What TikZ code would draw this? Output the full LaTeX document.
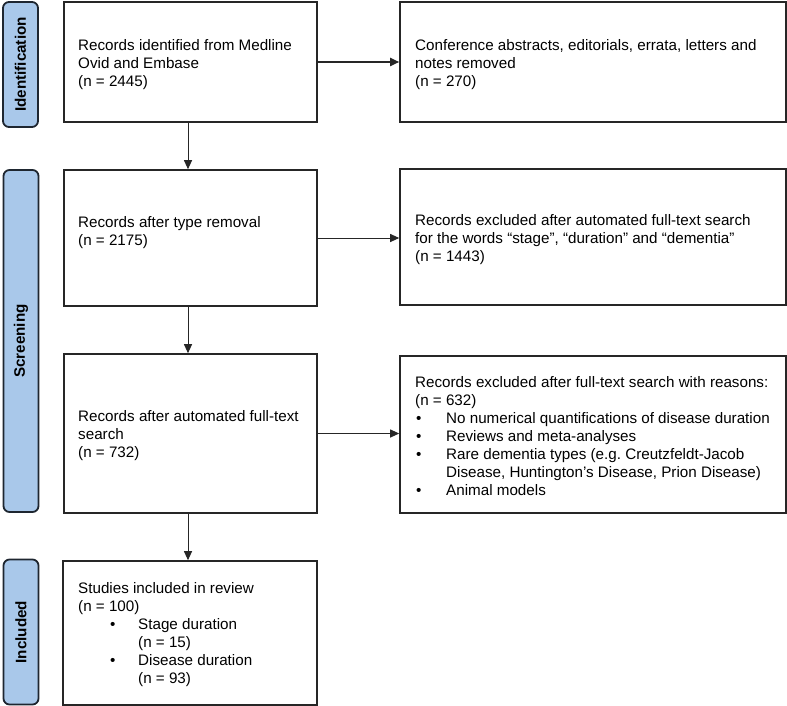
\documentclass[tikz,border=0pt]{standalone}
\usepackage{fontspec}
\setmainfont{Liberation Sans}
\usetikzlibrary{arrows.meta}
\definecolor{labfill}{RGB}{169,200,234}
\definecolor{labdraw}{RGB}{30,38,48}
\frenchspacing
\begin{document}
\begin{tikzpicture}[x=1pt,y=-1pt,
  every node/.style={font=\fontsize{15.2}{18}\selectfont},
  box/.style={draw=black!85, line width=1.6pt, rectangle, inner sep=0pt, anchor=center},
  boxtext/.style={align=left, inner sep=0pt, anchor=west},
  stage/.style={draw=labdraw, fill=labfill, line width=1.8pt, rounded corners=6pt, minimum width=35pt, anchor=center},
  stagetext/.style={rotate=90, font=\bfseries\fontsize{15.2}{18}\selectfont, anchor=center},
  conn/.style={draw=black!85, line width=1pt, -{Triangle[length=9pt,width=8pt]}},
  connthick/.style={draw=black!85, line width=1.8pt, -{Triangle[length=9pt,width=8pt]}}
]
\useasboundingbox (0,0) rectangle (787,706);

% stage labels
\node[stage, minimum height=125pt] (sid) at (20.5,64.5) {};
\node[stagetext] (tid) at (sid.center) {Identification};
\node[stage, minimum height=342pt] (ssc) at (21,341) {};
\node[stagetext] (tsc) at (ssc.center) {Screening};
\node[stage, minimum height=145pt] (sin) at (21,632) {};
\node[stagetext] (tin) at (sin.center) {Included};

% left boxes
\node[box, minimum width=253pt, minimum height=120pt] (b1) at (190.5,62) {};
\node[boxtext] (t1) at (78,65) {Records identified from Medline\\Ovid and Embase\\(n = 2445)};
\node[box, minimum width=253pt, minimum height=136pt] (b3) at (190.5,238) {};
\node[boxtext] (t3) at (78,233) {Records after type removal\\(n = 2175)};
\node[box, minimum width=253pt, minimum height=159pt] (b5) at (190.5,433.5) {};
\node[boxtext] (t5) at (78,436) {Records after automated full-text\\search\\(n = 732)};
\node[box, minimum width=254pt, minimum height=144pt] (b7) at (190,633) {};
\node[boxtext] (t7) at (78,634.5) {Studies included in review\\(n = 100)\\
   \hspace*{32pt}\makebox[28pt][l]{\textbullet}Stage duration\\
   \hspace*{60pt}(n = 15)\\
   \hspace*{32pt}\makebox[28pt][l]{\textbullet}Disease duration\\
   \hspace*{60pt}(n = 93)};

% right boxes
\node[box, minimum width=386pt, minimum height=120pt] (b2) at (593,62) {};
\node[boxtext] (t2) at (415,65) {Conference abstracts, editorials, errata, letters and\\notes removed\\(n = 270)};
\node[box, minimum width=386pt, minimum height=136pt] (b4) at (593,237) {};
\node[boxtext] (t4) at (415,240) {Records excluded after automated full-text search\\for the words “stage”, “duration” and “dementia”\\(n = 1443)};
\node[box, minimum width=386pt, minimum height=157pt] (b6) at (593,434.5) {};
\node[boxtext] (t6) at (415,436.5) {Records excluded after full-text search with reasons:\\(n = 632)\\
   \hspace*{1pt}\makebox[4pt][l]{\textbullet}\hspace*{26pt}No numerical quantifications of disease duration\\
   \hspace*{1pt}\makebox[4pt][l]{\textbullet}\hspace*{26pt}Reviews and meta-analyses\\
   \hspace*{1pt}\makebox[4pt][l]{\textbullet}\hspace*{26pt}Rare dementia types (e.g. Creutzfeldt-Jacob\\
   \hspace*{31pt}Disease, Huntington’s Disease, Prion Disease)\\
   \hspace*{1pt}\makebox[4pt][l]{\textbullet}\hspace*{26pt}Animal models};

% connectors
\draw[connthick] (b1.east) -- (b1.east -| b2.west);
\draw[conn] (b3.east) -- (b3.east -| b4.west);
\draw[conn] (b5.east) -- (b5.east -| b6.west);
\draw[conn] (b1.south -| 188,0) -- (b3.north -| 188,0);
\draw[conn] (b3.south -| 188,0) -- (b5.north -| 188,0);
\draw[conn] (b5.south -| 188,0) -- (b7.north -| 188,0);
\end{tikzpicture}
\end{document}
